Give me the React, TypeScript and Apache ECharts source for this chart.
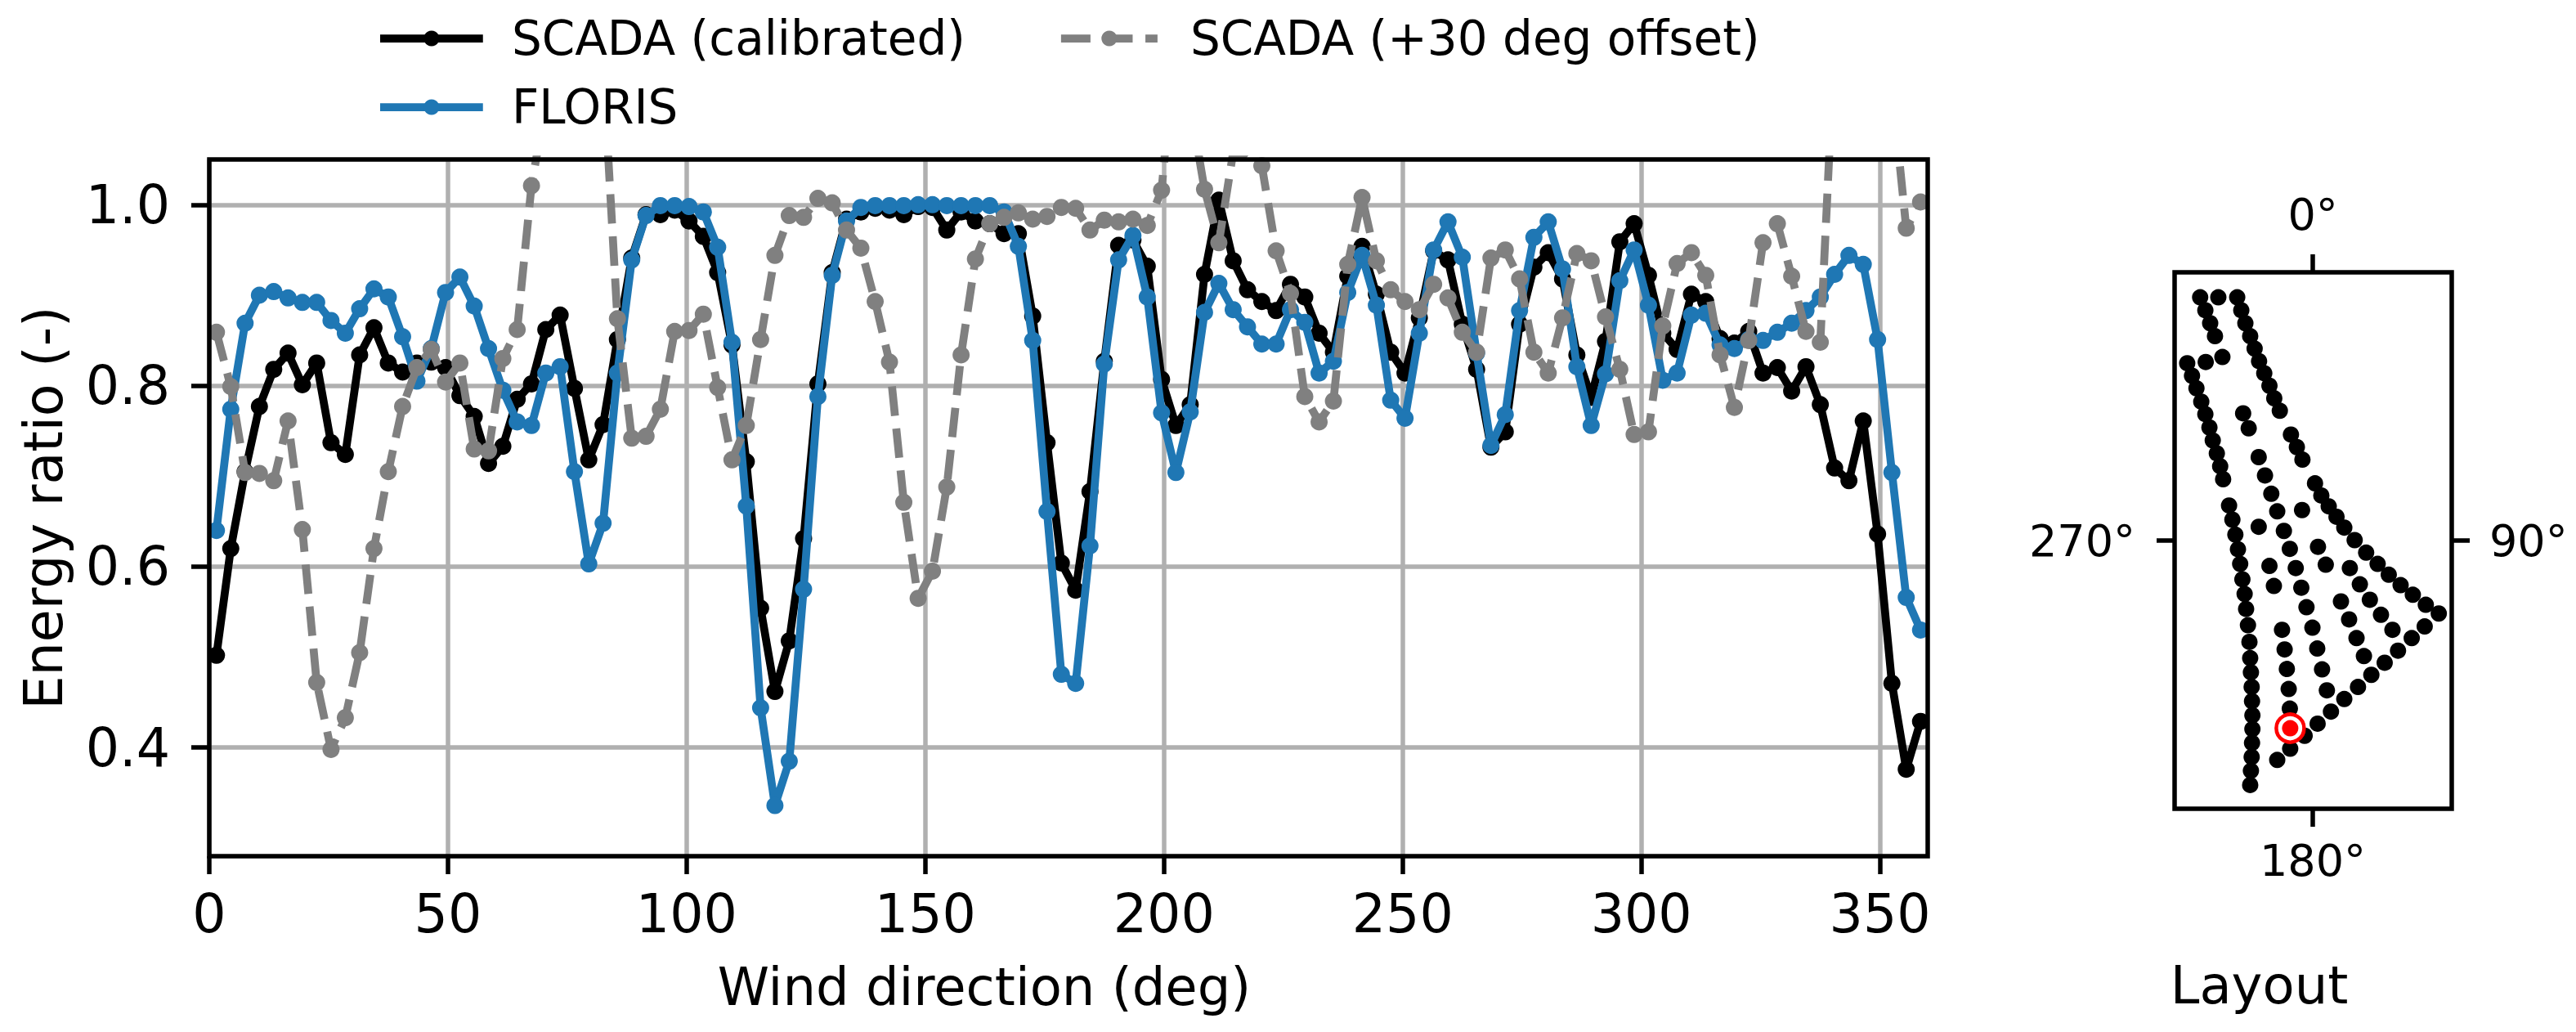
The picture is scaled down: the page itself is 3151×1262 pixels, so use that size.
import React, { useEffect, useRef } from "react";
import * as echarts from "echarts";

const windDirections = [
  1.5, 4.5, 7.5, 10.5, 13.5, 16.5, 19.5, 22.5, 25.5, 28.5, 31.5, 34.5, 37.5, 40.5, 43.5, 46.5, 49.5, 52.5, 55.5, 58.5,
  61.5, 64.5, 67.5, 70.5, 73.5, 76.5, 79.5, 82.5, 85.5, 88.5, 91.5, 94.5, 97.5, 100.5, 103.5, 106.5, 109.5, 112.5, 115.5, 118.5,
  121.5, 124.5, 127.5, 130.5, 133.5, 136.5, 139.5, 142.5, 145.5, 148.5, 151.5, 154.5, 157.5, 160.5, 163.5, 166.5, 169.5, 172.5, 175.5, 178.5,
  181.5, 184.5, 187.5, 190.5, 193.5, 196.5, 199.5, 202.5, 205.5, 208.5, 211.5, 214.5, 217.5, 220.5, 223.5, 226.5, 229.5, 232.5, 235.5, 238.5,
  241.5, 244.5, 247.5, 250.5, 253.5, 256.5, 259.5, 262.5, 265.5, 268.5, 271.5, 274.5, 277.5, 280.5, 283.5, 286.5, 289.5, 292.5, 295.5, 298.5,
  301.5, 304.5, 307.5, 310.5, 313.5, 316.5, 319.5, 322.5, 325.5, 328.5, 331.5, 334.5, 337.5, 340.5, 343.5, 346.5, 349.5, 352.5, 355.5, 358.5,
];

const scadaCalibrated = [
  0.502, 0.62, 0.705, 0.777, 0.818, 0.836, 0.801, 0.825, 0.737, 0.724, 0.834, 0.864, 0.825, 0.815, 0.825, 0.826, 0.82, 0.789, 0.766, 0.714,
  0.733, 0.785, 0.802, 0.862, 0.878, 0.797, 0.718, 0.757, 0.851, 0.941, 0.989, 0.989, 0.994, 0.982, 0.965, 0.925, 0.845, 0.716, 0.554, 0.462,
  0.518, 0.631, 0.802, 0.925, 0.984, 0.992, 0.996, 0.994, 0.989, 0.998, 0.997, 0.972, 0.992, 0.982, 0.979, 0.968, 0.968, 0.877, 0.737, 0.604,
  0.574, 0.683, 0.827, 0.955, 0.961, 0.932, 0.807, 0.756, 0.779, 0.923, 1.005, 0.938, 0.906, 0.893, 0.883, 0.912, 0.898, 0.858, 0.837, 0.921,
  0.954, 0.901, 0.837, 0.814, 0.875, 0.949, 0.939, 0.868, 0.818, 0.732, 0.749, 0.868, 0.931, 0.947, 0.918, 0.834, 0.787, 0.849, 0.959, 0.979,
  0.922, 0.858, 0.84, 0.901, 0.893, 0.852, 0.847, 0.86, 0.814, 0.82, 0.794, 0.821, 0.779, 0.709, 0.695, 0.761, 0.636, 0.471, 0.376, 0.429,
];

const floris = [
  0.64, 0.774, 0.869, 0.9, 0.904, 0.897, 0.892, 0.892, 0.872, 0.858, 0.885, 0.907, 0.898, 0.854, 0.805, 0.841, 0.903, 0.92, 0.888, 0.841,
  0.795, 0.76, 0.756, 0.814, 0.821, 0.705, 0.603, 0.648, 0.814, 0.939, 0.988, 0.999, 0.999, 0.998, 0.992, 0.953, 0.848, 0.667, 0.444, 0.336,
  0.385, 0.575, 0.788, 0.922, 0.982, 0.997, 0.999, 0.999, 0.999, 1.0, 1.0, 0.999, 0.999, 0.999, 0.999, 0.992, 0.954, 0.85, 0.661, 0.481,
  0.471, 0.623, 0.824, 0.939, 0.966, 0.898, 0.77, 0.704, 0.771, 0.881, 0.913, 0.884, 0.865, 0.846, 0.846, 0.884, 0.87, 0.814, 0.827, 0.903,
  0.944, 0.889, 0.784, 0.764, 0.858, 0.95, 0.981, 0.942, 0.836, 0.734, 0.768, 0.883, 0.964, 0.981, 0.929, 0.821, 0.756, 0.813, 0.916, 0.95,
  0.889, 0.806, 0.814, 0.878, 0.88, 0.845, 0.841, 0.851, 0.85, 0.859, 0.869, 0.883, 0.898, 0.923, 0.944, 0.934, 0.851, 0.704, 0.566, 0.53,
];

const scadaOffset = [
  0.859, 0.799, 0.704, 0.703, 0.695, 0.761, 0.641, 0.472, 0.398, 0.433, 0.505, 0.62, 0.705, 0.777, 0.82, 0.84, 0.804, 0.825, 0.73, 0.728,
  0.83, 0.862, 1.021, 1.112, 1.2, 1.2, 1.18, 1.153, 0.874, 0.742, 0.744, 0.774, 0.86, 0.861, 0.879, 0.798, 0.718, 0.756, 0.851, 0.944,
  0.988, 0.986, 1.007, 1.002, 0.972, 0.952, 0.893, 0.826, 0.671, 0.565, 0.595, 0.688, 0.834, 0.94, 0.979, 0.986, 0.991, 0.984, 0.987, 0.997,
  0.996, 0.972, 0.983, 0.981, 0.984, 0.977, 1.016, 1.19, 1.11, 1.017, 0.958, 1.058, 1.054, 1.043, 0.949, 0.902, 0.788, 0.76, 0.783, 0.934,
  1.008, 0.938, 0.906, 0.893, 0.884, 0.912, 0.897, 0.859, 0.837, 0.941, 0.95, 0.918, 0.837, 0.814, 0.875, 0.946, 0.938, 0.876, 0.818, 0.746,
  0.749, 0.866, 0.935, 0.947, 0.922, 0.834, 0.776, 0.85, 0.958, 0.979, 0.921, 0.86, 0.848, 1.18, 1.25, 1.25, 1.25, 1.13, 0.974, 1.003,
];

const xTicks = [0, 50, 100, 150, 200, 250, 300, 350];
const yTicks = [0.4, 0.6, 0.8, 1.0];

const layoutX = [
  -304, -255, -204, -290, -277, -264, -193, -182, -169, -157, -145, -131, -117, -104, -89, -244, -289, -339, -326, -314,
  -301, -290, -279, -270, -259, -250, -242, -226, -217, -209, -202, -196, -190, -184, -180, -175, -171, -169, -167, -165,
  -164, -163, -163, -164, -165, -167, -169, -188, -173, -59, -43, -28, -146, -129, -112, -96, -78, -62, -46, -31,
  -17, -1, 12, 25, 38, -29, -146, 14, 35, 100, 127, 154, 184, 215, -117, -105, 6, 23, 43, 64,
  85, 113, 144, 175, 205, 237, 270, 305, 340, 76, 98, 118, 138, 302, 267, 230, 194, 158, 122, 85,
  49, 13, -22, -83, -76, -70, -65, -62, -61, -96,
];
const layoutY = [
  583, 583, 583, 552, 521, 490, 552, 521, 490, 460, 430, 401, 371, 341, 311, 440, 428, 425, 395, 365,
  333, 303, 271, 240, 209, 178, 147, 84, 50, 14, -21, -56, -93, -128, -164, -203, -243, -282, -316, -351,
  -385, -419, -452, -485, -519, -552, -586, 305, 269, 254, 224, 194, 200, 156, 112, 70, 23, -20, -66, -113,
  -160, -209, -259, -309, -359, 73, 33, -15, -58, -66, -105, -142, -178, -214, -61, -109, 137, 108, 82, 57,
  31, 1, -29, -56, -82, -107, -130, -154, -175, -146, -189, -234, -277, -206, -234, -264, -293, -322, -351, -380,
  -410, -439, -468, -214, -261, -308, -356, -403, -499, -526,
];
const highlightedTurbine = [-61, -450];

const FONT = "DejaVu Sans";
const FS_MAIN = 65;
const FS_NAME = 64;
const FS_LEGEND = 58;
const FS_LAYOUT = 54;
const LW = 9.75;
const AX = 5.5;
const BLACK = "#000000";
const BLUE = "#1f77b4";
const GRAY = "#808080";
const DASH = [36, 15.6];

function pairs(xs: number[], ys: number[]) {
  return xs.map((x, i) => [x, ys[i]]);
}

function lineSeries(name: string, ys: number[], color: string, dashed: boolean, z: number) {
  return {
    type: "line",
    name,
    data: pairs(windDirections, ys),
    xAxisIndex: 0,
    yAxisIndex: 0,
    z,
    symbol: "circle",
    symbolSize: 21,
    clip: true,
    showSymbol: true,
    showAllSymbol: true,
    silent: true,
    itemStyle: { color },
    lineStyle: {
      color,
      width: LW,
      type: dashed ? DASH : "solid",
      cap: dashed ? "butt" : "square",
      join: "round",
    },
  };
}

function legendItem(name: string, left: number, top: number, itemWidth: number, color: string, dashed: boolean) {
  return {
    data: [name],
    left,
    top,
    padding: 0,
    itemWidth,
    itemHeight: 24,
    selectedMode: false,
    lineStyle: {
      color,
      width: LW,
      type: dashed ? DASH : "solid",
      cap: dashed ? "butt" : "square",
      opacity: 1,
    },
    textStyle: { fontFamily: FONT, fontSize: FS_LEGEND, color: BLACK, padding: [0, 0, 0, 35] },
  };
}

const axisLabelMain = { color: BLACK, fontFamily: FONT, fontSize: FS_MAIN, hideOverlap: false };
const axisLabelSmall = { color: BLACK, fontFamily: FONT, fontSize: FS_LAYOUT, hideOverlap: false };
const tickBase = { show: true, length: 22, lineStyle: { color: BLACK, width: AX } };

function layoutAxis(position: string, min: number, max: number, label: string, margin: number) {
  return {
    type: "value",
    gridIndex: 1,
    position,
    min,
    max,
    axisLine: { show: false, onZero: false },
    splitLine: { show: false },
    axisTick: { ...tickBase, customValues: [0] },
    axisLabel: { ...axisLabelSmall, margin, customValues: [0], formatter: () => label },
  };
}

export default function App() {
  const ref = useRef<HTMLDivElement>(null);

  useEffect(() => {
    document.body.style.margin = "0";
    document.body.style.background = "#ffffff";
    const chart = echarts.init(ref.current!, undefined, { renderer: "svg" });
    chart.setOption({
      animation: false,
      backgroundColor: "#ffffff",
      legend: [
        legendItem("SCADA (calibrated)", 465, 18, 116, BLACK, false),
        legendItem("FLORIS", 465, 102, 116, BLUE, false),
        legendItem("SCADA (+30 deg offset)", 1293, 18, 118, GRAY, true),
      ],
      grid: [
        { left: 256, top: 195, width: 2102, height: 852, show: true, z: 10, backgroundColor: "transparent", borderColor: BLACK, borderWidth: AX },
        { left: 2660, top: 333, width: 339, height: 656, show: true, z: 10, backgroundColor: "transparent", borderColor: BLACK, borderWidth: AX },
      ],
      xAxis: [
        {
          type: "value",
          gridIndex: 0,
          min: 0,
          max: 360,
          name: "Wind direction (deg)",
          nameLocation: "middle",
          nameGap: 128,
          nameTextStyle: { color: BLACK, fontFamily: FONT, fontSize: FS_NAME, padding: [0, 206, 0, 0] },
          axisLine: { show: false, onZero: false },
          axisTick: { ...tickBase, customValues: xTicks },
          axisLabel: { ...axisLabelMain, margin: 38, customValues: xTicks },
          splitLine: { show: true, lineStyle: { color: "#b0b0b0", width: AX } },
        },
        {
          ...layoutAxis("bottom", -373, 375, "180°", 36),
          name: "Layout",
          nameLocation: "middle",
          nameGap: 184,
          nameTextStyle: { color: BLACK, fontFamily: FONT, fontSize: FS_NAME, padding: [0, 132, 0, 0] },
        },
        layoutAxis("top", -373, 375, "0°", 44),
      ],
      yAxis: [
        {
          type: "value",
          gridIndex: 0,
          min: 0.28,
          max: 1.05,
          name: "Energy ratio (-)",
          nameLocation: "middle",
          nameGap: 170,
          nameTextStyle: { color: BLACK, fontFamily: FONT, fontSize: 65 },
          axisLine: { show: false, onZero: false },
          axisTick: { ...tickBase, customValues: yTicks },
          axisLabel: { ...axisLabelMain, margin: 48, customValues: yTicks, formatter: (v: number) => v.toFixed(1) },
          splitLine: { show: true, lineStyle: { color: "#b0b0b0", width: AX } },
        },
        layoutAxis("left", -643, 643, "270°", 48),
        layoutAxis("right", -643, 643, "90°", 46),
      ],
      series: [
        lineSeries("SCADA (calibrated)", scadaCalibrated, BLACK, false, 3),
        lineSeries("FLORIS", floris, BLUE, false, 4),
        lineSeries("SCADA (+30 deg offset)", scadaOffset, GRAY, true, 5),
        {
          type: "scatter",
          name: "Turbines",
          xAxisIndex: 1,
          yAxisIndex: 1,
          data: pairs(layoutX, layoutY),
          symbolSize: 20,
          itemStyle: { color: BLACK, opacity: 1 },
          silent: true,
          z: 3,
        },
        {
          type: "scatter",
          name: "Turbine ring",
          xAxisIndex: 1,
          yAxisIndex: 1,
          data: [highlightedTurbine],
          symbolSize: 34,
          itemStyle: { color: "#ffffff", borderColor: "#ff0000", borderWidth: 4.5, opacity: 1 },
          silent: true,
          z: 4,
        },
        {
          type: "scatter",
          name: "Turbine highlighted",
          xAxisIndex: 1,
          yAxisIndex: 1,
          data: [highlightedTurbine],
          symbolSize: 20,
          itemStyle: { color: "#ff0000", opacity: 1 },
          silent: true,
          z: 5,
        },
      ],
    });
    return () => chart.dispose();
  }, []);

  return <div ref={ref} style={{ width: 3151, height: 1262 }} />;
}
